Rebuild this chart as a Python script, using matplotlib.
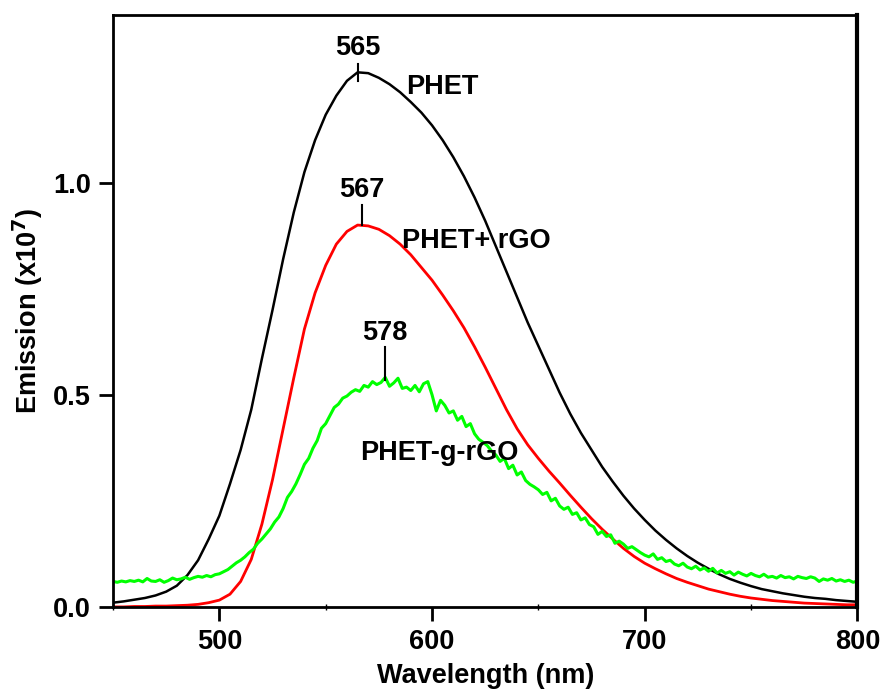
import numpy as np
import matplotlib
matplotlib.use('Agg')
import matplotlib.pyplot as plt
from matplotlib.ticker import MultipleLocator

plt.rcParams['font.family'] = ['Liberation Sans', 'DejaVu Sans']
plt.rcParams['font.weight'] = 'bold'

# PHET and PHET+rGO, read every 5 nm
wl = np.arange(450, 801, 5)
phet = [0.010, 0.013, 0.017, 0.021, 0.027, 0.036, 0.050, 0.075, 0.110, 0.160,
        0.215, 0.290, 0.370, 0.465, 0.585, 0.700, 0.820, 0.930, 1.025, 1.100,
        1.160, 1.205, 1.240, 1.260, 1.258, 1.247, 1.232, 1.213, 1.190, 1.165,
        1.135, 1.100, 1.060, 1.015, 0.965, 0.910, 0.850, 0.790, 0.730, 0.670,
        0.615, 0.560, 0.505, 0.455, 0.410, 0.370, 0.330, 0.295, 0.262, 0.232,
        0.205, 0.180, 0.158, 0.138, 0.120, 0.104, 0.090, 0.077, 0.066, 0.057,
        0.049, 0.042, 0.037, 0.032, 0.028, 0.024, 0.021, 0.019, 0.016, 0.014,
        0.012]
phet_rgo = [0.000, 0.000, 0.001, 0.001, 0.002, 0.002, 0.003, 0.004, 0.006, 0.010,
            0.016, 0.030, 0.060, 0.112, 0.195, 0.300, 0.420, 0.540, 0.655, 0.740,
            0.805, 0.855, 0.885, 0.900, 0.898, 0.890, 0.875, 0.855, 0.830, 0.800,
            0.770, 0.735, 0.698, 0.658, 0.613, 0.565, 0.515, 0.465, 0.420, 0.382,
            0.350, 0.320, 0.292, 0.263, 0.235, 0.208, 0.183, 0.160, 0.138, 0.119,
            0.103, 0.090, 0.078, 0.067, 0.058, 0.050, 0.042, 0.036, 0.030, 0.025,
            0.021, 0.018, 0.015, 0.013, 0.011, 0.009, 0.008, 0.007, 0.006, 0.005,
            0.005]

# PHET-g-rGO, noisy trace read every 2 nm
phet_g_rgo = [0.060, 0.058, 0.061, 0.059, 0.062, 0.060, 0.063, 0.059, 0.067, 0.061,
              0.060, 0.064, 0.058, 0.062, 0.068, 0.064, 0.066, 0.070, 0.065, 0.069,
              0.072, 0.070, 0.074, 0.071, 0.076, 0.078, 0.083, 0.088, 0.096, 0.104,
              0.110, 0.118, 0.128, 0.136, 0.150, 0.160, 0.172, 0.184, 0.200, 0.212,
              0.232, 0.258, 0.272, 0.290, 0.312, 0.336, 0.350, 0.374, 0.392, 0.421,
              0.432, 0.451, 0.470, 0.478, 0.492, 0.497, 0.506, 0.512, 0.508, 0.522,
              0.518, 0.531, 0.524, 0.529, 0.541, 0.520, 0.528, 0.539, 0.515, 0.518,
              0.510, 0.522, 0.507, 0.526, 0.531, 0.500, 0.462, 0.487, 0.475, 0.457,
              0.462, 0.440, 0.449, 0.425, 0.432, 0.408, 0.395, 0.388, 0.380, 0.367,
              0.358, 0.343, 0.350, 0.326, 0.334, 0.311, 0.318, 0.298, 0.289, 0.283,
              0.276, 0.265, 0.270, 0.250, 0.256, 0.238, 0.230, 0.235, 0.218, 0.222,
              0.205, 0.210, 0.194, 0.189, 0.171, 0.178, 0.166, 0.170, 0.150, 0.155,
              0.148, 0.138, 0.142, 0.135, 0.128, 0.122, 0.118, 0.125, 0.112, 0.116,
              0.107, 0.110, 0.101, 0.097, 0.103, 0.094, 0.090, 0.096, 0.087, 0.092,
              0.084, 0.091, 0.080, 0.086, 0.079, 0.083, 0.075, 0.082, 0.077, 0.073,
              0.079, 0.074, 0.071, 0.077, 0.070, 0.072, 0.068, 0.074, 0.069, 0.071,
              0.066, 0.072, 0.069, 0.067, 0.071, 0.068, 0.060, 0.066, 0.063, 0.067,
              0.061, 0.064, 0.060, 0.063, 0.058, 0.061]
wl_g = np.linspace(450, 800, len(phet_g_rgo))

# peak markers: (wavelength, line bottom, line top, text y)
peaks = [(565, 1.24, 1.28, 1.318), (567, 0.90, 0.948, 0.983), (578, 0.535, 0.613, 0.646)]
names = [('PHET', 588, 1.226), ('PHET+ rGO', 586, 0.863), ('PHET-g-rGO', 566, 0.363)]

fig = plt.figure(figsize=(8.83, 6.96), dpi=100)
ax = fig.add_axes([0.128, 0.128, 0.843, 0.851])

ax.plot(wl, phet, color='black', lw=1.8)
ax.plot(wl, phet_rgo, color='#ff0000', lw=2.0)
ax.plot(wl_g, phet_g_rgo, color='#00ff00', lw=2.2)

for p, y0, y1, ty in peaks:
    ax.plot([p, p], [y0, y1], color='black', lw=1.5)
    ax.text(p, ty, str(p), ha='center', va='center', fontsize=19.5, fontweight='bold')
for txt, x, y in names:
    ax.text(x, y, txt, ha='left', va='center', fontsize=19.5, fontweight='bold')

ax.set_xlim(450, 800)
ax.set_ylim(0, 1.396)
ax.set_xticks([500, 600, 700, 800])
ax.set_yticks([0.0, 0.5, 1.0])
ax.set_yticklabels(['0.0', '0.5', '1.0'])
ax.xaxis.set_minor_locator(MultipleLocator(50))
ax.tick_params(which='major', direction='out', length=10, width=2, labelsize=19.5, pad=6)
ax.tick_params(which='minor', direction='inout', length=4, width=1)
for lab in ax.get_xticklabels() + ax.get_yticklabels():
    lab.set_fontweight('bold')
for s in ['left', 'top', 'bottom']:
    ax.spines[s].set_linewidth(2)
ax.spines['right'].set_linewidth(3)

ax.set_xlabel('Wavelength (nm)', fontsize=19.5, fontweight='bold', labelpad=6)
ax.set_ylabel('Emission (x10$^\\mathbf{7}$)', fontsize=19.5, fontweight='bold', labelpad=6)

fig.savefig('out.png', dpi=100)
